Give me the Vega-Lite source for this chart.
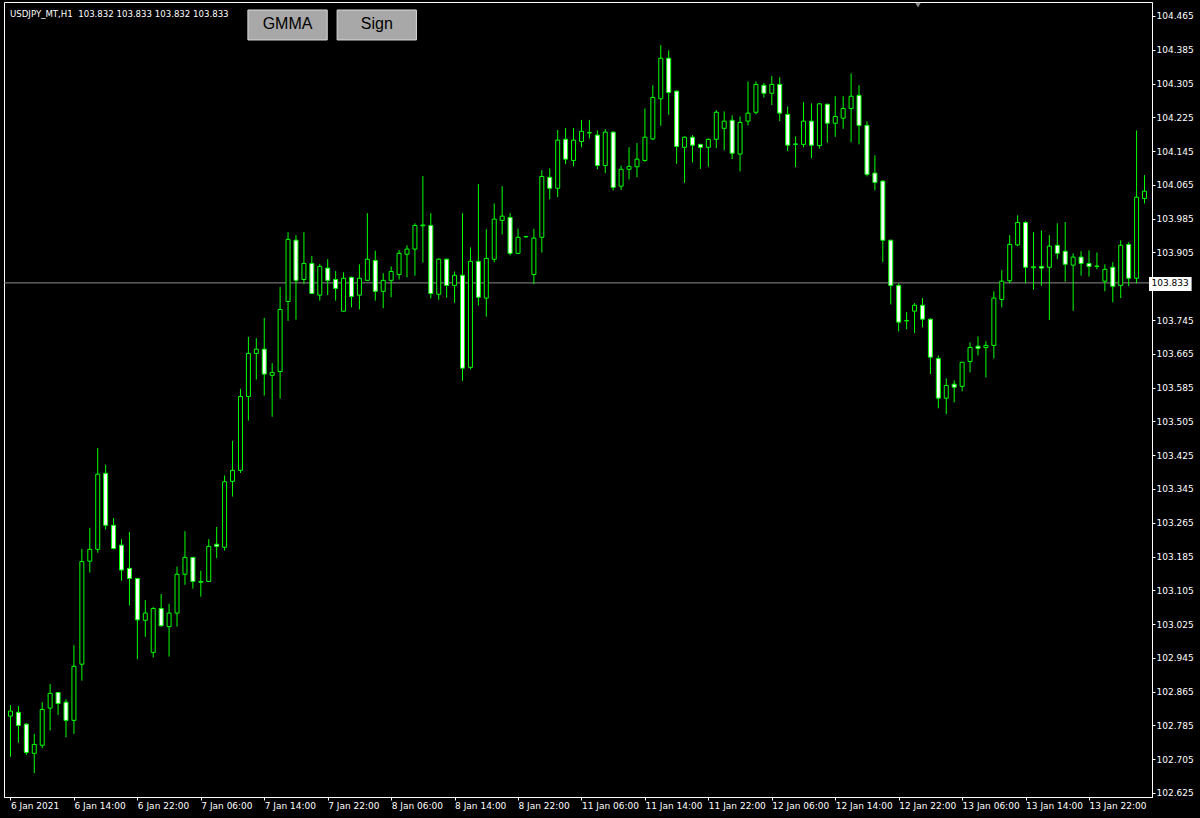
{
  "$schema": "https://vega.github.io/schema/vega-lite/v6.json",
  "width": 1148,
  "height": 795,
  "autosize": "none",
  "padding": {"left": 4, "top": 2, "right": 48, "bottom": 21},
  "background": "#000000",
  "config": {
    "view": {"stroke": "#FFFFFF", "strokeWidth": 1},
    "axis": {"grid": false, "title": null, "labelOverlap": false, "labelFlush": false, "labelBound": false}
  },
  "data": {"values": [{}]},
  "datasets": {
    "candles": [
      {"i":0,"o":102.807,"h":102.833,"l":102.711,"c":102.819},
      {"i":1,"o":102.816,"h":102.831,"l":102.744,"c":102.785},
      {"i":2,"o":102.788,"h":102.790,"l":102.715,"c":102.721},
      {"i":3,"o":102.719,"h":102.765,"l":102.672,"c":102.740},
      {"i":4,"o":102.738,"h":102.840,"l":102.731,"c":102.823},
      {"i":5,"o":102.826,"h":102.883,"l":102.773,"c":102.861},
      {"i":6,"o":102.863,"h":102.864,"l":102.810,"c":102.837},
      {"i":7,"o":102.840,"h":102.847,"l":102.757,"c":102.797},
      {"i":8,"o":102.797,"h":102.975,"l":102.765,"c":102.925},
      {"i":9,"o":102.930,"h":103.203,"l":102.891,"c":103.173},
      {"i":10,"o":103.174,"h":103.253,"l":103.147,"c":103.202},
      {"i":11,"o":103.202,"h":103.442,"l":103.194,"c":103.380},
      {"i":12,"o":103.382,"h":103.402,"l":103.249,"c":103.259},
      {"i":13,"o":103.259,"h":103.276,"l":103.202,"c":103.204},
      {"i":14,"o":103.212,"h":103.226,"l":103.128,"c":103.153},
      {"i":15,"o":103.157,"h":103.243,"l":103.069,"c":103.133},
      {"i":16,"o":103.133,"h":103.134,"l":102.942,"c":103.035},
      {"i":17,"o":103.034,"h":103.082,"l":102.995,"c":103.051},
      {"i":18,"o":102.958,"h":103.065,"l":102.946,"c":103.062},
      {"i":19,"o":103.062,"h":103.096,"l":103.019,"c":103.021},
      {"i":20,"o":103.019,"h":103.073,"l":102.948,"c":103.051},
      {"i":21,"o":103.051,"h":103.161,"l":103.019,"c":103.143},
      {"i":22,"o":103.143,"h":103.245,"l":103.118,"c":103.183},
      {"i":23,"o":103.183,"h":103.184,"l":103.109,"c":103.126},
      {"i":24,"o":103.124,"h":103.151,"l":103.090,"c":103.126},
      {"i":25,"o":103.126,"h":103.226,"l":103.125,"c":103.209},
      {"i":26,"o":103.214,"h":103.255,"l":103.181,"c":103.209},
      {"i":27,"o":103.207,"h":103.377,"l":103.199,"c":103.362},
      {"i":28,"o":103.363,"h":103.459,"l":103.327,"c":103.389},
      {"i":29,"o":103.389,"h":103.582,"l":103.383,"c":103.564},
      {"i":30,"o":103.564,"h":103.705,"l":103.507,"c":103.666},
      {"i":31,"o":103.666,"h":103.702,"l":103.604,"c":103.676},
      {"i":32,"o":103.676,"h":103.750,"l":103.566,"c":103.617},
      {"i":33,"o":103.614,"h":103.643,"l":103.516,"c":103.621},
      {"i":34,"o":103.623,"h":103.823,"l":103.559,"c":103.770},
      {"i":35,"o":103.789,"h":103.953,"l":103.743,"c":103.936},
      {"i":36,"o":103.934,"h":103.946,"l":103.746,"c":103.839},
      {"i":37,"o":103.841,"h":103.953,"l":103.830,"c":103.879},
      {"i":38,"o":103.879,"h":103.897,"l":103.807,"c":103.808},
      {"i":39,"o":103.804,"h":103.878,"l":103.791,"c":103.872},
      {"i":40,"o":103.868,"h":103.889,"l":103.804,"c":103.839},
      {"i":41,"o":103.841,"h":103.861,"l":103.791,"c":103.820},
      {"i":42,"o":103.766,"h":103.858,"l":103.765,"c":103.844},
      {"i":43,"o":103.846,"h":103.848,"l":103.775,"c":103.801},
      {"i":44,"o":103.804,"h":103.877,"l":103.770,"c":103.844},
      {"i":45,"o":103.839,"h":103.998,"l":103.838,"c":103.889},
      {"i":46,"o":103.886,"h":103.909,"l":103.791,"c":103.813},
      {"i":47,"o":103.813,"h":103.856,"l":103.773,"c":103.839},
      {"i":48,"o":103.839,"h":103.872,"l":103.799,"c":103.860},
      {"i":49,"o":103.853,"h":103.911,"l":103.841,"c":103.903},
      {"i":50,"o":103.901,"h":103.922,"l":103.846,"c":103.913},
      {"i":51,"o":103.913,"h":103.974,"l":103.850,"c":103.969},
      {"i":52,"o":103.968,"h":104.086,"l":103.881,"c":103.970},
      {"i":53,"o":103.969,"h":103.998,"l":103.796,"c":103.808},
      {"i":54,"o":103.806,"h":103.891,"l":103.793,"c":103.889},
      {"i":55,"o":103.889,"h":103.891,"l":103.798,"c":103.827},
      {"i":56,"o":103.827,"h":103.860,"l":103.786,"c":103.851},
      {"i":57,"o":103.851,"h":103.998,"l":103.601,"c":103.631},
      {"i":58,"o":103.633,"h":103.917,"l":103.628,"c":103.884},
      {"i":59,"o":103.884,"h":104.067,"l":103.779,"c":103.799},
      {"i":60,"o":103.797,"h":103.960,"l":103.753,"c":103.891},
      {"i":61,"o":103.889,"h":104.021,"l":103.882,"c":103.984},
      {"i":62,"o":103.981,"h":104.062,"l":103.948,"c":103.991},
      {"i":63,"o":103.988,"h":103.998,"l":103.898,"c":103.903},
      {"i":64,"o":103.903,"h":103.961,"l":103.901,"c":103.941},
      {"i":65,"o":103.942,"h":103.944,"l":103.940,"c":103.943},
      {"i":66,"o":103.853,"h":103.961,"l":103.830,"c":103.939},
      {"i":67,"o":103.941,"h":104.100,"l":103.905,"c":104.085},
      {"i":68,"o":104.083,"h":104.104,"l":104.031,"c":104.057},
      {"i":69,"o":104.057,"h":104.195,"l":104.036,"c":104.171},
      {"i":70,"o":104.173,"h":104.200,"l":104.114,"c":104.126},
      {"i":71,"o":104.123,"h":104.200,"l":104.109,"c":104.171},
      {"i":72,"o":104.168,"h":104.219,"l":104.154,"c":104.192},
      {"i":73,"o":104.188,"h":104.219,"l":104.175,"c":104.189},
      {"i":74,"o":104.183,"h":104.194,"l":104.102,"c":104.111},
      {"i":75,"o":104.111,"h":104.197,"l":104.093,"c":104.190},
      {"i":76,"o":104.190,"h":104.191,"l":104.052,"c":104.059},
      {"i":77,"o":104.062,"h":104.111,"l":104.053,"c":104.102},
      {"i":78,"o":104.102,"h":104.154,"l":104.078,"c":104.109},
      {"i":79,"o":104.108,"h":104.164,"l":104.083,"c":104.126},
      {"i":80,"o":104.123,"h":104.246,"l":104.120,"c":104.178},
      {"i":81,"o":104.174,"h":104.301,"l":104.171,"c":104.272},
      {"i":82,"o":104.269,"h":104.396,"l":104.205,"c":104.365},
      {"i":83,"o":104.365,"h":104.384,"l":104.231,"c":104.284},
      {"i":84,"o":104.287,"h":104.289,"l":104.115,"c":104.156},
      {"i":85,"o":104.154,"h":104.180,"l":104.070,"c":104.178},
      {"i":86,"o":104.178,"h":104.183,"l":104.118,"c":104.159},
      {"i":87,"o":104.161,"h":104.162,"l":104.103,"c":104.154},
      {"i":88,"o":104.154,"h":104.175,"l":104.108,"c":104.173},
      {"i":89,"o":104.173,"h":104.242,"l":104.152,"c":104.237},
      {"i":90,"o":104.199,"h":104.239,"l":104.147,"c":104.216},
      {"i":91,"o":104.218,"h":104.230,"l":104.126,"c":104.140},
      {"i":92,"o":104.138,"h":104.227,"l":104.097,"c":104.213},
      {"i":93,"o":104.216,"h":104.310,"l":104.206,"c":104.235},
      {"i":94,"o":104.237,"h":104.310,"l":104.232,"c":104.303},
      {"i":95,"o":104.301,"h":104.306,"l":104.272,"c":104.282},
      {"i":96,"o":104.282,"h":104.323,"l":104.254,"c":104.303},
      {"i":97,"o":104.303,"h":104.320,"l":104.216,"c":104.235},
      {"i":98,"o":104.232,"h":104.251,"l":104.145,"c":104.159},
      {"i":99,"o":104.161,"h":104.180,"l":104.107,"c":104.162},
      {"i":100,"o":104.161,"h":104.261,"l":104.154,"c":104.216},
      {"i":101,"o":104.216,"h":104.258,"l":104.128,"c":104.159},
      {"i":102,"o":104.158,"h":104.259,"l":104.151,"c":104.257},
      {"i":103,"o":104.256,"h":104.257,"l":104.165,"c":104.211},
      {"i":104,"o":104.211,"h":104.275,"l":104.179,"c":104.227},
      {"i":105,"o":104.223,"h":104.275,"l":104.198,"c":104.246},
      {"i":106,"o":104.246,"h":104.329,"l":104.166,"c":104.275},
      {"i":107,"o":104.277,"h":104.301,"l":104.161,"c":104.206},
      {"i":108,"o":104.206,"h":104.216,"l":104.085,"c":104.090},
      {"i":109,"o":104.093,"h":104.135,"l":104.052,"c":104.071},
      {"i":110,"o":104.074,"h":104.076,"l":103.882,"c":103.934},
      {"i":111,"o":103.934,"h":103.935,"l":103.782,"c":103.827},
      {"i":112,"o":103.827,"h":103.832,"l":103.718,"c":103.740},
      {"i":113,"o":103.743,"h":103.764,"l":103.723,"c":103.744},
      {"i":114,"o":103.766,"h":103.785,"l":103.714,"c":103.780},
      {"i":115,"o":103.780,"h":103.797,"l":103.728,"c":103.747},
      {"i":116,"o":103.747,"h":103.749,"l":103.617,"c":103.657},
      {"i":117,"o":103.654,"h":103.661,"l":103.536,"c":103.560},
      {"i":118,"o":103.560,"h":103.607,"l":103.522,"c":103.590},
      {"i":119,"o":103.593,"h":103.602,"l":103.550,"c":103.586},
      {"i":120,"o":103.588,"h":103.646,"l":103.576,"c":103.645},
      {"i":121,"o":103.647,"h":103.692,"l":103.621,"c":103.680},
      {"i":122,"o":103.683,"h":103.706,"l":103.661,"c":103.678},
      {"i":123,"o":103.680,"h":103.695,"l":103.609,"c":103.685},
      {"i":124,"o":103.685,"h":103.813,"l":103.654,"c":103.797},
      {"i":125,"o":103.794,"h":103.863,"l":103.775,"c":103.837},
      {"i":126,"o":103.838,"h":103.946,"l":103.832,"c":103.924},
      {"i":127,"o":103.923,"h":103.993,"l":103.920,"c":103.976},
      {"i":128,"o":103.976,"h":103.979,"l":103.832,"c":103.870},
      {"i":129,"o":103.869,"h":103.953,"l":103.817,"c":103.871},
      {"i":130,"o":103.872,"h":103.957,"l":103.826,"c":103.868},
      {"i":131,"o":103.870,"h":103.946,"l":103.745,"c":103.920},
      {"i":132,"o":103.922,"h":103.974,"l":103.889,"c":103.903},
      {"i":133,"o":103.908,"h":103.977,"l":103.836,"c":103.877},
      {"i":134,"o":103.875,"h":103.903,"l":103.767,"c":103.894},
      {"i":135,"o":103.894,"h":103.908,"l":103.850,"c":103.879},
      {"i":136,"o":103.879,"h":103.910,"l":103.848,"c":103.872},
      {"i":137,"o":103.872,"h":103.905,"l":103.865,"c":103.873},
      {"i":138,"o":103.837,"h":103.877,"l":103.813,"c":103.865},
      {"i":139,"o":103.870,"h":103.882,"l":103.787,"c":103.825},
      {"i":140,"o":103.827,"h":103.934,"l":103.797,"c":103.922},
      {"i":141,"o":103.924,"h":103.929,"l":103.825,"c":103.844},
      {"i":142,"o":103.844,"h":104.194,"l":103.832,"c":104.036},
      {"i":143,"o":104.033,"h":104.088,"l":104.021,"c":104.050}
    ]
  },
  "layer": [
    {
      "mark": {"type": "rule", "color": "#8C8C8C", "strokeWidth": 1, "clip": true},
      "encoding": {
        "y": {"datum": 103.833, "type": "quantitative"}
      }
    },
    {
      "data": {"name": "candles"},
      "mark": {"type": "rule", "color": "#00FF00", "strokeWidth": 1, "clip": true},
      "encoding": {
        "x": {
          "field": "i", "type": "quantitative",
          "scale": {"domain": [-0.1875, 143.3125], "nice": false, "zero": false},
          "axis": {
            "orient": "bottom",
            "values": [0, 8, 16, 24, 32, 40, 48, 56, 64, 72, 80, 88, 96, 104, 112, 120, 128, 136],
            "tickCount": 40,
            "labelExpr": "['6 Jan 2021','6 Jan 14:00','6 Jan 22:00','7 Jan 06:00','7 Jan 14:00','7 Jan 22:00','8 Jan 06:00','8 Jan 14:00','8 Jan 22:00','11 Jan 06:00','11 Jan 14:00','11 Jan 22:00','12 Jan 06:00','12 Jan 14:00','12 Jan 22:00','13 Jan 06:00','13 Jan 14:00','13 Jan 22:00'][round(datum.value/8)]",
            "labelAlign": "left",
            "labelBaseline": "top",
            "labelPadding": 1,
            "labelColor": "#FFFFFF",
            "labelFont": "DejaVu Sans",
            "labelFontSize": 9,
            "labelOverlap": false,
            "labelFlush": false,
            "labelBound": false,
            "domainColor": "#FFFFFF",
            "tickColor": "#FFFFFF",
            "tickSize": 3
          }
        },
        "y": {
          "field": "l", "type": "quantitative",
          "scale": {"domain": [102.61551, 104.49815], "nice": false, "zero": false},
          "axis": {
            "orient": "right",
            "values": [104.465, 104.385, 104.305, 104.225, 104.145, 104.065, 103.985, 103.905, 103.745, 103.665, 103.585, 103.505, 103.425, 103.345, 103.265, 103.185, 103.105, 103.025, 102.945, 102.865, 102.785, 102.705, 102.625],
            "tickCount": 50,
            "format": ".3f",
            "labelPadding": 1,
            "labelColor": "#FFFFFF",
            "labelFont": "DejaVu Sans",
            "labelFontSize": 9,
            "labelOverlap": false,
            "labelFlush": false,
            "labelBound": false,
            "domainColor": "#FFFFFF",
            "tickColor": "#FFFFFF",
            "tickSize": 3
          }
        },
        "y2": {"field": "h"}
      }
    },
    {
      "data": {"name": "candles"},
      "mark": {"type": "bar", "width": 4, "stroke": "#00FF00", "strokeWidth": 1, "clip": true},
      "encoding": {
        "x": {"field": "i", "type": "quantitative"},
        "y": {"field": "o", "type": "quantitative"},
        "y2": {"field": "c"},
        "fill": {"condition": {"test": "datum.c >= datum.o", "value": "#000000"}, "value": "#FFFFFF"}
      }
    },
    {
      "mark": {"type": "rect", "fill": "#A8A8A8", "stroke": "#DADADA", "strokeWidth": 1, "clip": false},
      "encoding": {
        "x": {"datum": 29.9375, "type": "quantitative"},
        "x2": {"datum": 39.9375},
        "y": {"datum": 104.4792, "type": "quantitative"},
        "y2": {"datum": 104.4082}
      }
    },
    {
      "mark": {"type": "rect", "fill": "#A8A8A8", "stroke": "#DADADA", "strokeWidth": 1, "clip": false},
      "encoding": {
        "x": {"datum": 41.1875, "type": "quantitative"},
        "x2": {"datum": 51.1875},
        "y": {"datum": 104.4792, "type": "quantitative"},
        "y2": {"datum": 104.4082}
      }
    },
    {
      "mark": {"type": "text", "text": "GMMA", "font": "Liberation Sans", "fontSize": 16, "color": "#000000", "align": "center", "baseline": "middle", "clip": false},
      "encoding": {
        "x": {"datum": 34.9375, "type": "quantitative"},
        "y": {"datum": 104.4461, "type": "quantitative"}
      }
    },
    {
      "mark": {"type": "text", "text": "Sign", "font": "Liberation Sans", "fontSize": 16, "color": "#000000", "align": "center", "baseline": "middle", "clip": false},
      "encoding": {
        "x": {"datum": 46.1875, "type": "quantitative"},
        "y": {"datum": 104.4461, "type": "quantitative"}
      }
    },
    {
      "mark": {"type": "text", "text": "USDJPY_MT,H1\u00a0\u00a0103.832 103.833 103.832 103.833", "font": "DejaVu Sans", "fontSize": 8.6, "color": "#FFFFFF", "align": "left", "baseline": "alphabetic", "clip": false},
      "encoding": {
        "x": {"datum": -0.0625, "type": "quantitative"},
        "y": {"datum": 104.4626, "type": "quantitative"}
      }
    },
    {
      "mark": {"type": "point", "shape": "triangle-down", "filled": true, "color": "#8C8C8C", "size": 30, "opacity": 1, "clip": false},
      "encoding": {
        "x": {"datum": 114.4375, "type": "quantitative"},
        "y": {"datum": 104.4905, "type": "quantitative"}
      }
    },
    {
      "mark": {"type": "rect", "fill": "#FFFFFF", "clip": false},
      "encoding": {
        "x": {"datum": 143.5625, "type": "quantitative"},
        "x2": {"datum": 148.9375},
        "y": {"datum": 103.8469, "type": "quantitative"},
        "y2": {"datum": 103.8138}
      }
    },
    {
      "mark": {"type": "text", "text": "103.833", "font": "DejaVu Sans", "fontSize": 9, "color": "#000000", "align": "left", "baseline": "middle", "clip": false},
      "encoding": {
        "x": {"datum": 143.875, "type": "quantitative"},
        "y": {"datum": 103.833, "type": "quantitative"}
      }
    }
  ]
}
